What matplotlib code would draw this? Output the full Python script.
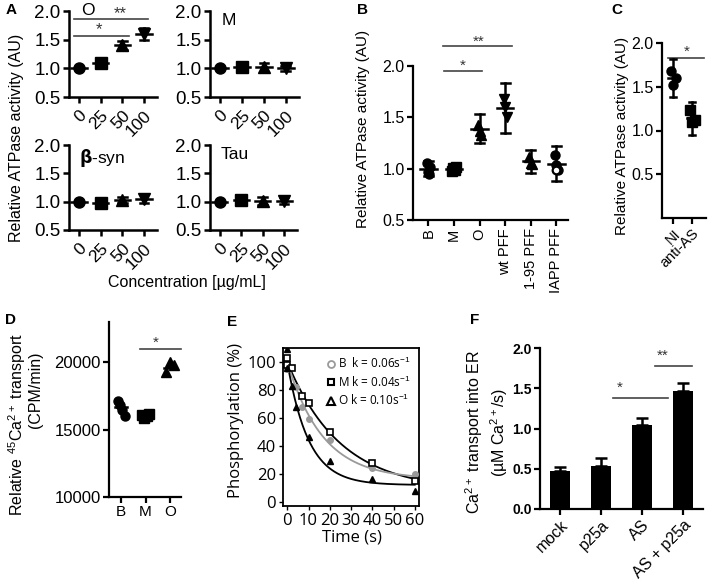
import numpy as np
import matplotlib
matplotlib.use('Agg')
import matplotlib.pyplot as plt
from matplotlib.lines import Line2D

plt.rcParams['font.family'] = ['Liberation Sans', 'DejaVu Sans']
plt.rcParams['mathtext.fontset'] = 'custom'
plt.rcParams['mathtext.rm'] = 'Liberation Sans'

W, H = 709, 580
fig = plt.figure(figsize=(W / 100, H / 100), dpi=100)

# ---------------- data ----------------
conc_labels = ['0', '25', '50', '100']
A_markers = ['o', 's', '^', 'v']
A_O_mean = [1.00, 1.10, 1.40, 1.60]
A_O_sd = [0.02, 0.03, 0.08, 0.10]
A_M_mean = [1.00, 1.02, 1.02, 1.00]
A_M_sd = [0.02, 0.03, 0.08, 0.04]
A_b_mean = [1.00, 0.97, 1.03, 1.05]
A_b_sd = [0.02, 0.03, 0.05, 0.08]
A_T_mean = [1.00, 1.03, 1.01, 1.02]
A_T_sd = [0.02, 0.03, 0.07, 0.06]

B_cats = ['B', 'M', 'O', 'wt PFF', '1-95 PFF', 'IAPP PFF']
B_pts = [[1.06, 0.97, 0.95, 1.02], [0.98, 1.01, 0.99, 1.02], [1.43, 1.37, 1.33],
         [1.68, 1.60, 1.50], [1.11, 1.06, 1.05], [1.13, 1.04, 0.99]]
B_mean = [1.00, 1.00, 1.39, 1.59, 1.07, 1.05]
B_sd = [0.07, 0.03, 0.14, 0.24, 0.11, 0.17]
B_markers = ['o', 's', '^', 'v', '^', 'o']

C_cats = ['NI', 'anti-AS']
C_pts = [[1.68, 1.52, 1.60], [1.23, 1.10, 1.12]]
C_mean = [1.60, 1.14]
C_sd = [0.22, 0.19]
C_markers = ['o', 's']

D_cats = ['B', 'M', 'O']
D_pts = [[17100, 16800, 16500, 16000], [16100, 15900, 16000, 16200], [19300, 20000, 19800]]
D_mean = [16700, 16000, 19600]
D_markers = ['o', 's', '^']

E_t_B = [0, 4, 7, 10, 20, 40, 60]
E_y_B = [95, 82, 68, 59, 44, 24, 20]
E_t_M = [0, 0, 2, 7, 10, 20, 40, 60]
E_y_M = [103, 98, 96, 76, 71, 50, 28, 15]
E_t_O = [0, 0, 2, 4, 10, 20, 40, 60]
E_y_O = [109, 96, 83, 68, 46, 29, 16, 8]
# single-exponential fit parameters: amplitude, rate k (1/s), plateau
E_fit_B = (84, 0.06, 16)
E_fit_M = (92, 0.04, 8)
E_fit_O = (88, 0.10, 12)

F_cats = ['mock', 'p25a', 'AS', 'AS + p25a']
F_mean = [0.47, 0.54, 1.04, 1.47]
F_sem = [0.05, 0.09, 0.09, 0.09]

# ---------------- helpers ----------------
def add_ax(l, t, r, b):
    return fig.add_axes([l / W, 1 - b / H, (r - l) / W, (b - t) / H])

def ftext(x, y, s, **kw):
    return fig.text(x / W, 1 - y / H, s, **kw)

def style_prism(ax, lw=1.6):
    for s in ['top', 'right']:
        ax.spines[s].set_visible(False)
    for s in ['left', 'bottom']:
        ax.spines[s].set_linewidth(lw)
    ax.tick_params(width=lw, length=4, direction='out', pad=2)

def mean_sd(ax, x, m, sd, cap=0.16, mw=0.3, lw=1.6):
    ax.plot([x, x], [m - sd, m + sd], color='black', lw=lw, zorder=3, clip_on=False)
    ax.plot([x - cap, x + cap], [m - sd, m - sd], color='black', lw=lw, zorder=3, clip_on=False)
    ax.plot([x - cap, x + cap], [m + sd, m + sd], color='black', lw=lw, zorder=3, clip_on=False)
    ax.plot([x - mw, x + mw], [m, m], color='black', lw=lw, zorder=3, clip_on=False)

def sig(ax, x0, x1, y, txt, ty, tx, fs=11):
    ax.plot([x0, x1], [y, y], color='#444444', lw=1.2, clip_on=False)
    ax.text(tx, ty, txt, ha='center', va='bottom', fontsize=fs, color='#333333', clip_on=False)

# ---------------- Panel A ----------------
A_boxes = [(69, 11, 157, 97), (210, 11, 299, 97), (69, 145, 157, 230), (210, 145, 297, 230)]
A_means = [A_O_mean, A_M_mean, A_b_mean, A_T_mean]
A_sds = [A_O_sd, A_M_sd, A_b_sd, A_T_sd]
A_axes = []
for box, mm, ss in zip(A_boxes, A_means, A_sds):
    ax = add_ax(*box)
    style_prism(ax, 1.8)
    xs = np.arange(len(conc_labels))
    for i in range(len(xs)):
        mean_sd(ax, xs[i], mm[i], ss[i], cap=0.2, mw=0.35, lw=1.8)
        ax.plot(xs[i], mm[i], marker=A_markers[i], ms=8, color='black', zorder=4, clip_on=False)
    ax.set_xlim(-0.46, 3.6)
    ax.set_ylim(0.5, 2.0)
    ax.set_yticks([0.5, 1.0, 1.5, 2.0])
    ax.set_yticklabels(['0.5', '1.0', '1.5', '2.0'], fontsize=13.5)
    ax.set_xticks(xs)
    ax.set_xticklabels(conc_labels, rotation=45, ha='right', rotation_mode='anchor', fontsize=12.5)
    ax.tick_params(axis='x', pad=4)
    A_axes.append(ax)

A_axes[0].text(0.1, 1.87, 'O', fontsize=12.5, va='bottom')
A_axes[1].text(0.05, 1.97, 'M', fontsize=12.5, va='top')
A_axes[2].text(0.0, 1.97, r'$\mathbf{\beta}$-syn', fontsize=12.5, va='top')
A_axes[3].text(0.05, 1.97, 'Tau', fontsize=12.5, va='top')
sig(A_axes[0], -0.23, 3.18, 1.86, '**', 1.83, tx=1.9, fs=12)
sig(A_axes[0], -0.23, 2.3, 1.57, '*', 1.54, tx=0.92, fs=12)

ftext(17, 138, 'Relative ATPase activity (AU)', rotation=90, ha='center', va='center', fontsize=11.5)
ftext(187, 282, 'Concentration [µg/mL]', ha='center', va='center', fontsize=11.5)
ftext(11, 10, 'A', fontsize=11, fontweight='bold', ha='center', va='center')

# ---------------- Panel B ----------------
axB = add_ax(413, 66, 568, 220)
style_prism(axB)
for i in range(len(B_cats)):
    pts = B_pts[i]
    offs = np.linspace(-0.12, 0.12, len(pts))
    for o, p in zip(offs, pts):
        axB.plot(i + o * 0.5, p, marker=B_markers[i], ms=6.5, color='black', zorder=4)
    mean_sd(axB, i, B_mean[i], B_sd[i], cap=0.18, mw=0.32, lw=1.8)
axB.plot(5, 0.99, marker='o', ms=5.5, mfc='white', mec='black', mew=1.6, zorder=5)
axB.set_xlim(-0.6, 5.45)
axB.set_ylim(0.5, 2.0)
axB.set_yticks([0.5, 1.0, 1.5, 2.0])
axB.set_yticklabels(['0.5', '1.0', '1.5', '2.0'], fontsize=11.5)
axB.set_xticks(range(len(B_cats)))
axB.set_xticklabels(B_cats, rotation=90, fontsize=10.5)
sig(axB, 0.59, 3.28, 2.19, '**', 2.17, tx=1.95, fs=11)
sig(axB, 0.62, 2.1, 1.95, '*', 1.93, tx=1.33, fs=11)
ftext(363, 129, 'Relative ATPase activity (AU)', rotation=90, ha='center', va='center', fontsize=11)
ftext(363, 10, 'B', fontsize=11, fontweight='bold', ha='center', va='center')

# ---------------- Panel C ----------------
axC = add_ax(662, 43, 706, 218)
style_prism(axC)
for i in range(len(C_cats)):
    pts = C_pts[i]
    offs = [-0.12, 0.0, 0.14]
    for o, p in zip(offs, pts):
        axC.plot(i + o, p, marker=C_markers[i], ms=6.5, color='black', zorder=4)
    mean_sd(axC, i, C_mean[i], C_sd[i], cap=0.15, mw=0.25, lw=1.8)
axC.set_xlim(-0.58, 1.74)
axC.set_ylim(0.0, 2.0)
axC.set_yticks([0.5, 1.0, 1.5, 2.0])
axC.set_yticklabels(['0.5', '1.0', '1.5', '2.0'], fontsize=11.5)
axC.set_xticks(range(len(C_cats)))
axC.set_xticklabels(C_cats, rotation=45, ha='right', rotation_mode='anchor', fontsize=10.5)
sig(axC, -0.26, 1.63, 1.83, '*', 1.82, tx=0.7, fs=11)
ftext(622, 136, 'Relative ATPase activity (AU)', rotation=90, ha='center', va='center', fontsize=11)
ftext(617, 10, 'C', fontsize=11, fontweight='bold', ha='center', va='center')

# ---------------- Panel D ----------------
axD = add_ax(109, 322, 181, 497)
style_prism(axD)
for i in range(len(D_cats)):
    pts = D_pts[i]
    offs = np.linspace(-0.15, 0.15, len(pts))
    for o, p in zip(offs, pts):
        axD.plot(i + o, p, marker=D_markers[i], ms=6.5, color='black', zorder=4)
    axD.plot([i - 0.25, i + 0.25], [D_mean[i], D_mean[i]], color='black', lw=1.8, zorder=3)
axD.set_xlim(-0.5, 2.45)
axD.set_ylim(10000, 23000)
axD.set_yticks([10000, 15000, 20000])
axD.set_yticklabels(['10000', '15000', '20000'], fontsize=12)
axD.set_xticks(range(len(D_cats)))
axD.set_xticklabels(D_cats, fontsize=11)
sig(axD, 0.78, 2.45, 20970, '*', 20900, tx=1.4, fs=11)
ftext(17, 424, 'Relative $^{45}$Ca$^{2+}$ transport', rotation=90, ha='center', va='center', fontsize=11.5)
ftext(36, 390, '(CPM/min)', rotation=90, ha='center', va='center', fontsize=11.5)
ftext(10, 320, 'D', fontsize=11, fontweight='bold', ha='center', va='center')

# ---------------- Panel E ----------------
efont = ['Open Sans', 'DejaVu Sans']
axE = add_ax(283, 348, 419, 506)
for s in axE.spines.values():
    s.set_linewidth(1.3)
axE.tick_params(width=1.0, length=3, direction='out', pad=2)
tt = np.linspace(0, 60, 200)
for (a, k, c), col in [(E_fit_M, 'black'), (E_fit_B, '#9a9a9a'), (E_fit_O, 'black')]:
    axE.plot(tt, a * np.exp(-k * tt) + c, color=col, lw=1.3)
axE.plot(E_t_B, E_y_B, 'o', ms=4, color='#9a9a9a', zorder=4)
axE.plot(E_t_M, E_y_M, 's', ms=4, mfc='white', mec='black', mew=1.2, zorder=4)
axE.plot(E_t_O, E_y_O, '^', ms=4.5, color='black', zorder=4)
axE.set_xlim(-2, 62)
axE.set_ylim(-3, 110)
axE.set_xticks(range(0, 61, 10))
axE.set_yticks(range(0, 101, 20))
for lab in axE.get_xticklabels() + axE.get_yticklabels():
    lab.set_fontfamily(efont)
    lab.set_fontsize(12)
handles = [Line2D([], [], ls='none', marker='o', ms=5, mfc='white', mec='#9a9a9a', mew=1.3),
           Line2D([], [], ls='none', marker='s', ms=5, mfc='white', mec='black', mew=1.5),
           Line2D([], [], ls='none', marker='^', ms=5.5, mfc='white', mec='black', mew=1.5)]
labels = ['B  k = 0.06s$^{-1}$', 'M k = 0.04s$^{-1}$', 'O k = 0.10s$^{-1}$']
axE.legend(handles, labels, loc='upper right', frameon=False,
           handlelength=0.6, handletextpad=0.3, labelspacing=0.25,
           borderaxespad=0.3, prop={'family': efont, 'size': 8.5})
ftext(236, 421, 'Phosphorylation (%)', rotation=90, ha='center', va='center', fontsize=12, family=efont)
ftext(352, 538, 'Time (s)', ha='center', va='center', fontsize=12, family=efont)
ftext(232, 322, 'E', fontsize=11, fontweight='bold', ha='center', va='center')

# ---------------- Panel F ----------------
axF = add_ax(540, 348, 703, 509)
style_prism(axF)
xF = np.arange(len(F_cats))
axF.bar(xF, F_mean, width=0.47, color='black', zorder=2)
axF.errorbar(xF, F_mean, yerr=[np.zeros(len(F_mean)), F_sem], fmt='none', ecolor='black',
             elinewidth=1.8, capsize=4.5, capthick=1.8, zorder=1)
axF.set_xlim(-0.49, 3.49)
axF.set_ylim(0, 2.0)
axF.set_yticks([0.0, 0.5, 1.0, 1.5, 2.0])
axF.set_yticklabels(['0.0', '0.5', '1.0', '1.5', '2.0'], fontsize=10, fontweight='bold')
axF.set_xticks(xF)
axF.set_xticklabels(F_cats, rotation=45, ha='right', rotation_mode='anchor', fontsize=11.5)
sig(axF, 1.29, 2.63, 1.38, '*', 1.42, tx=1.45, fs=11)
sig(axF, 2.32, 3.22, 1.78, '**', 1.82, tx=2.5, fs=11)
ftext(487, 432, 'Ca$^{2+}$ transport into ER\n(µM Ca$^{2+}$/s)', rotation=90, ha='center',
      va='center', fontsize=11.5, multialignment='center')
ftext(475, 320, 'F', fontsize=11, fontweight='bold', ha='center', va='center')

fig.savefig('out.png', dpi=100)
